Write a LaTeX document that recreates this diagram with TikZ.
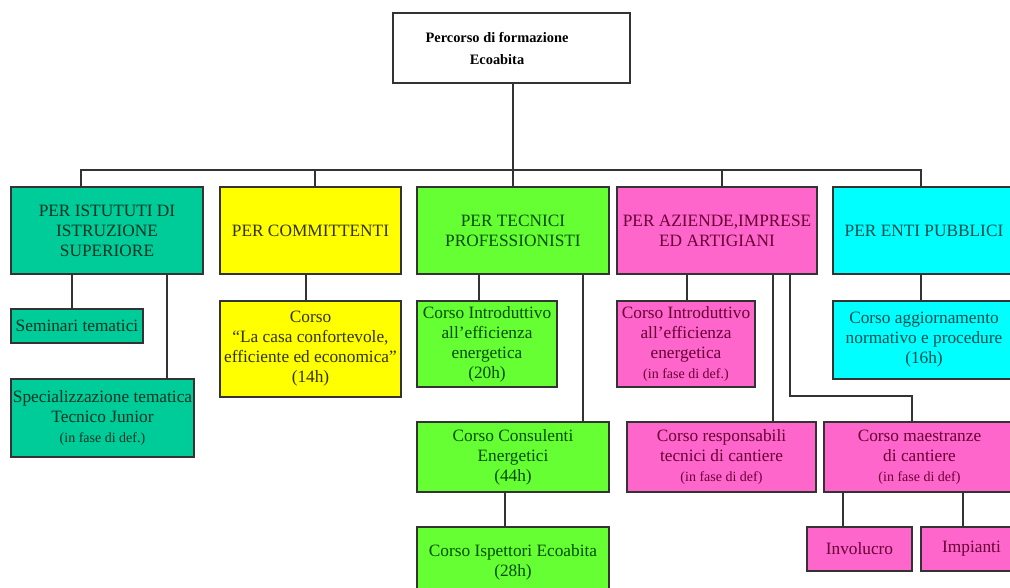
\documentclass[tikz,border=0pt]{standalone}
\usepackage{fontspec}
\setmainfont{Liberation Serif}

\definecolor{tealfill}{RGB}{0,204,153}
\definecolor{yellowfill}{RGB}{255,255,0}
\definecolor{greenfill}{RGB}{102,255,51}
\definecolor{pinkfill}{RGB}{255,102,204}
\definecolor{cyanfill}{RGB}{0,255,255}
\definecolor{tealtext}{RGB}{0,51,34}
\definecolor{yellowtext}{RGB}{51,51,0}
\definecolor{greentext}{RGB}{0,77,0}
\definecolor{pinktext}{RGB}{102,0,51}
\definecolor{cyantext}{RGB}{0,77,77}
\definecolor{linec}{RGB}{51,51,51}

\begin{document}
\begin{tikzpicture}[x=1pt,y=-1pt,
  box/.style={draw=linec, line width=1.5pt, inner sep=0pt, align=center,
    font=\fontsize{17.3}{20}\selectfont},
  topbox/.style={box, fill=white, text=black, font=\bfseries\fontsize{14.4}{22}\selectfont},
  tealbox/.style={box, fill=tealfill, text=tealtext},
  yellowbox/.style={box, fill=yellowfill, text=yellowtext},
  greenbox/.style={box, fill=greenfill, text=greentext},
  pinkbox/.style={box, fill=pinkfill, text=pinktext},
  cyanbox/.style={box, fill=cyanfill, text=cyantext},
  link/.style={draw=linec, line width=1.5pt}]

\clip (0,0) rectangle (1010,587);

% top
\node[topbox, minimum width=237, minimum height=70] (perc) at (511.5,48) {Percorso di formazione\hspace*{29pt}\\Ecoabita\hspace*{29pt}};

% first row
\node[tealbox, minimum width=192, minimum height=87] (ist) at (107,230.5) {PER ISTUTUTI DI\\ISTRUZIONE\\SUPERIORE};
\node[yellowbox, minimum width=181, minimum height=87] (comm) at (310.5,230.5) {PER COMMITTENTI};
\node[greenbox, minimum width=192, minimum height=87] (tec) at (513,230.5) {PER TECNICI\\PROFESSIONISTI};
\node[pinkbox, minimum width=200, minimum height=87] (az) at (717,230.5) {PER AZIENDE,IMPRESE\\ED ARTIGIANI};
\node[cyanbox, minimum width=182, minimum height=87] (enti) at (924,230.5) {PER ENTI PUBBLICI};

% second row
\node[tealbox, minimum width=132, minimum height=34] (sem) at (77,326) {Seminari tematici};
\node[tealbox, minimum width=183, minimum height=78] (spec) at (102.5,418) {Specializzazione tematica\\Tecnico Junior\\{\fontsize{14}{16}\selectfont (in fase di def.)}};
\node[yellowbox, minimum width=181, minimum height=96] (casa) at (310.5,349) {Corso\\“La casa confortevole,\\efficiente ed economica”\\(14h)};
\node[greenbox, minimum width=140, minimum height=86] (tecintro) at (487,344) {Corso Introduttivo\\all’efficienza\\energetica\\(20h)};
\node[pinkbox, minimum width=138, minimum height=86] (azintro) at (686,344) {Corso Introduttivo\\all’efficienza\\energetica\\{\fontsize{14}{16}\selectfont (in fase di def.)}};
\node[cyanbox, minimum width=182, minimum height=78] (agg) at (924,340) {Corso aggiornamento\\normativo e procedure\\(16h)};

% third row
\node[greenbox, minimum width=192, minimum height=70] (cons) at (513,457) {Corso Consulenti\\Energetici\\(44h)};
\node[greenbox, minimum width=192, minimum height=70] (isp) at (513,562) {Corso Ispettori Ecoabita\\(28h)};
\node[pinkbox, minimum width=189, minimum height=70] (resp) at (721.5,457) {Corso responsabili\\tecnici di cantiere\\{\fontsize{14}{16}\selectfont (in fase di def)}};
\node[pinkbox, minimum width=191, minimum height=70] (maes) at (919.5,457) {Corso maestranze\\di cantiere\\{\fontsize{14}{16}\selectfont (in fase di def)}};
\node[pinkbox, minimum width=105, minimum height=44] (inv) at (859.5,549) {Involucro};
\node[pinkbox, minimum width=101, minimum height=44] (imp) at (971.5,549) {Impianti};

\coordinate (bus) at (513,170);
\coordinate (bend) at (790,396);

% top to first row
\draw[link] ([xshift=1.5]perc.south) -- ([xshift=1.5]perc.south |- bus) -| ([xshift=-26]ist.north);
\draw[link] ([xshift=1.5]perc.south) -- ([xshift=1.5]perc.south |- bus) -| ([xshift=4.5]comm.north);
\draw[link] ([xshift=1.5]perc.south) -- ([xshift=1.5]perc.south |- bus) -| ([xshift=0]tec.north);
\draw[link] ([xshift=1.5]perc.south) -- ([xshift=1.5]perc.south |- bus) -| ([xshift=5]az.north);
\draw[link] ([xshift=1.5]perc.south) -- ([xshift=1.5]perc.south |- bus) -| ([xshift=-3]enti.north);

% first row to second row
\draw[link] ([xshift=-35]ist.south) -- ([xshift=-35]ist.south |- sem.north);
\draw[link] ([xshift=60]ist.south) -- ([xshift=60]ist.south |- spec.north);
\draw[link] ([xshift=-4.5]comm.south) -- ([xshift=-4.5]comm.south |- casa.north);
\draw[link] ([xshift=-34]tec.south) -- ([xshift=-34]tec.south |- tecintro.north);
\draw[link] ([xshift=70]tec.south) -- ([xshift=70]tec.south |- cons.north);
\draw[link] ([xshift=-30]az.south) -- ([xshift=-30]az.south |- azintro.north);
\draw[link] ([xshift=56]az.south) -- ([xshift=56]az.south |- resp.north);
\draw[link] ([xshift=73]az.south) -- (bend) -| ([xshift=-7.5]maes.north);
\draw[link] ([xshift=-3]enti.south) -- ([xshift=-3]enti.south |- agg.north);

% lower links
\draw[link] ([xshift=-8]cons.south) -- ([xshift=-8]cons.south |- isp.north);
\draw[link] ([xshift=-76.5]maes.south) -- ([xshift=-76.5]maes.south |- inv.north);
\draw[link] ([xshift=43.5]maes.south) -- ([xshift=43.5]maes.south |- imp.north);

\end{tikzpicture}
\end{document}
